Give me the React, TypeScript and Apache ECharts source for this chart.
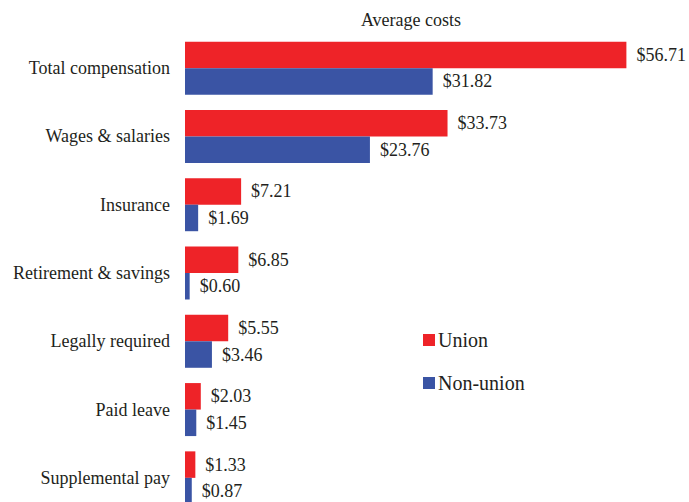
import React, { useEffect, useRef } from "react";
import * as echarts from "echarts";

const categories = [
  "Total compensation",
  "Wages & salaries",
  "Insurance",
  "Retirement & savings",
  "Legally required",
  "Paid leave",
  "Supplemental pay",
];
const unionValues = [56.71, 33.73, 7.21, 6.85, 5.55, 2.03, 1.33];
const nonUnionValues = [31.82, 23.76, 1.69, 0.6, 3.46, 1.45, 0.87];
const seriesNames = ["Union", "Non-union"];
const titleText = "Average costs";

const FONT = "'Liberation Serif', 'Times New Roman', serif";

export default function App() {
  const ref = useRef<HTMLDivElement>(null);
  useEffect(() => {
    if (!ref.current) return;
    const chart = echarts.init(ref.current, null, { renderer: "svg" });
    const label = {
      show: true,
      position: "right",
      distance: 10,
      fontFamily: FONT,
      fontSize: 18,
      color: "#231f20",
      formatter: (p: any) => "$" + Number(p.value).toFixed(2),
    };
    chart.setOption({
      animation: false,
      backgroundColor: "#ffffff",
      title: {
        text: titleText,
        left: 406,
        top: 6,
        textAlign: "center",
        textStyle: { fontFamily: FONT, fontSize: 18, fontWeight: "normal", color: "#231f20" },
      },
      legend: {
        orient: "vertical",
        left: 418,
        top: 325,
        itemWidth: 12,
        itemHeight: 12,
        itemGap: 23,
        icon: "rect",
        textStyle: { fontFamily: FONT, fontSize: 20, color: "#231f20", padding: [0, 0, 0, -2] },
        data: seriesNames,
      },
      grid: { left: 185, right: 37, top: 34, bottom: 0, containLabel: false },
      xAxis: {
        type: "value",
        min: 0,
        max: 60,
        show: false,
      },
      yAxis: {
        type: "category",
        inverse: true,
        data: categories,
        axisLine: { show: false },
        axisTick: { show: false },
        axisLabel: { fontFamily: FONT, fontSize: 18, color: "#231f20", margin: 15 },
      },
      series: [
        {
          name: seriesNames[0],
          type: "bar",
          data: unionValues,
          barWidth: 26.5,
          barGap: "0%",
          itemStyle: { color: "#ee2328" },
          label,
        },
        {
          name: seriesNames[1],
          type: "bar",
          data: nonUnionValues,
          barWidth: 26.5,
          barGap: "0%",
          itemStyle: { color: "#3a54a4" },
          label,
        },
      ],
    });
    return () => chart.dispose();
  }, []);
  return (
    <div
      ref={ref}
      style={{ position: "fixed", left: 0, top: 0, width: 689, height: 512 }}
    />
  );
}
